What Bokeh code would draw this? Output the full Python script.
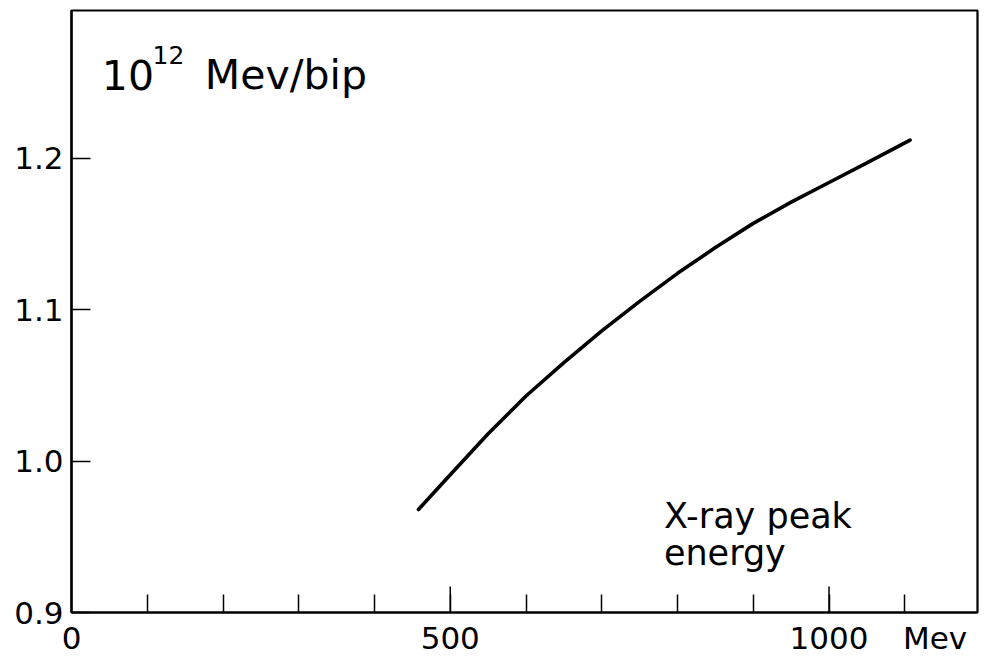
import math
from bokeh.plotting import figure
from bokeh.models import FixedTicker, Label, Range1d
from bokeh.embed import file_html
from bokeh.resources import INLINE

# Data
energy_mev = [458, 500, 550, 600, 650, 700, 750, 800, 850, 900, 950, 1000, 1050, 1107]
mev_per_bip = [0.968, 0.991, 1.018, 1.043, 1.065, 1.086, 1.1055, 1.124, 1.141, 1.157,
               1.171, 1.184, 1.197, 1.212]

x_label_ticks = [0, 500, 1000, 1140]
x_tick_labels = {0: "0", 500: "500", 1000: "1000", 1140: "Mev"}
x_short_ticks = [100, 200, 300, 400, 500, 600, 700, 800, 900, 1000, 1100]
x_long_ticks = [500, 1000]
y_ticks = [0.9, 1.0, 1.1, 1.2]
y_tick_labels = {0.9: "0.9", 1.0: "1.0", 1.1: "1.1", 1.2: "1.2"}

FONT = "DejaVu Sans"

p = figure(width=987, height=665, output_backend="svg", toolbar_location=None,
           x_range=Range1d(0, 1196), y_range=Range1d(0.9, 1.2976),
           min_border_left=71, min_border_right=10, min_border_top=10, min_border_bottom=53)

p.line(energy_mev, mev_per_bip, line_color="black", line_width=3.6, line_cap="round")

# longer ticks at 500 and 1000
p.ray(x=x_long_ticks, y=[0.9] * len(x_long_ticks), length=26, length_units="screen",
      angle=math.pi / 2, line_color="black", line_width=1.5)

p.grid.visible = False
p.outline_line_color = "black"
p.outline_line_width = 2.2
p.background_fill_color = "white"
p.border_fill_color = "white"

# x axis
xa = p.xaxis[0]
xa.ticker = FixedTicker(ticks=x_label_ticks, minor_ticks=x_short_ticks)
xa.major_label_overrides = x_tick_labels
xa.major_tick_line_color = None
xa.major_tick_in = 0
xa.major_tick_out = 0
xa.minor_tick_in = 18
xa.minor_tick_out = 0
xa.minor_tick_line_width = 1.5
xa.axis_line_width = 2.2
xa.major_label_text_font = FONT
xa.major_label_text_font_size = "31px"
xa.major_label_text_color = "black"
xa.major_label_standoff = 7

# y axis
ya = p.yaxis[0]
ya.ticker = FixedTicker(ticks=y_ticks, minor_ticks=[])
ya.major_label_overrides = y_tick_labels
ya.major_tick_in = 19
ya.major_tick_out = 0
ya.major_tick_line_width = 1.5
ya.axis_line_width = 2.2
ya.major_label_text_font = FONT
ya.major_label_text_font_size = "31px"
ya.major_label_text_color = "black"
ya.major_label_standoff = 8

# Texts
p.add_layout(Label(x=40, y=1.2547, text="10", text_font=FONT,
                   text_font_size="41px", text_color="black", text_baseline="alphabetic"))
p.add_layout(Label(x=107, y=1.2685, text="12", text_font=FONT,
                   text_font_size="25px", text_color="black", text_baseline="alphabetic"))
p.add_layout(Label(x=176, y=1.2547, text="Mev/bip", text_font=FONT,
                   text_font_size="41px", text_color="black", text_baseline="alphabetic"))
p.add_layout(Label(x=782, y=0.964, text="X-ray peak", text_font=FONT,
                   text_font_size="35px", text_color="black", text_baseline="alphabetic"))
p.add_layout(Label(x=782, y=0.939, text="energy", text_font=FONT,
                   text_font_size="35px", text_color="black", text_baseline="alphabetic"))

open("out.html", "w").write(file_html(p, INLINE))
